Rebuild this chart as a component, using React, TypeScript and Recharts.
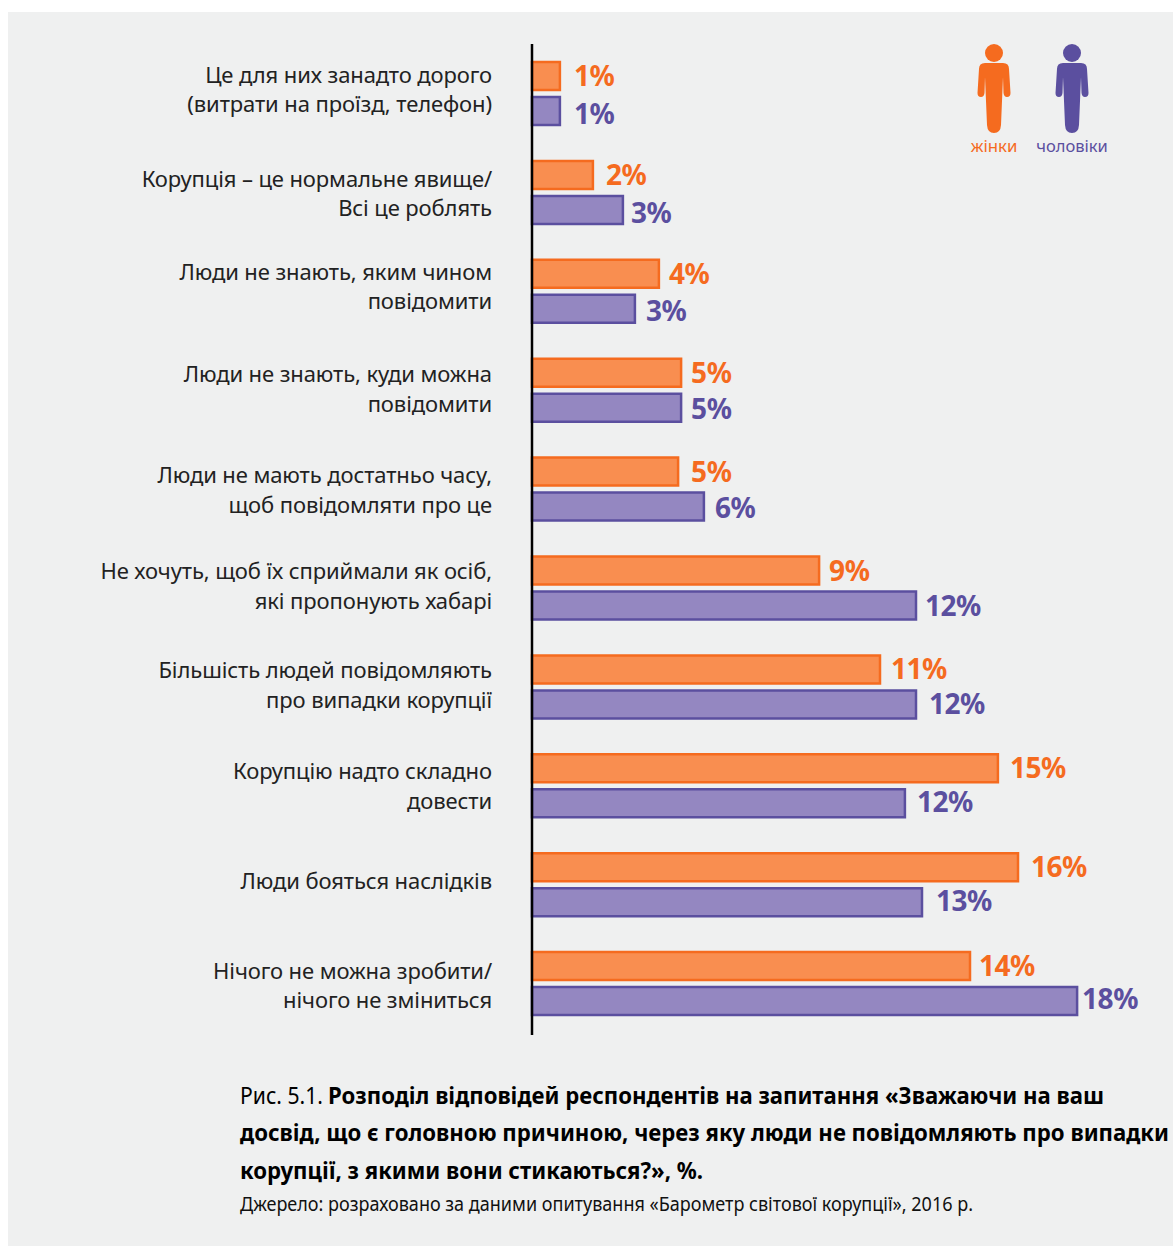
import React from 'react';
import { BarChart, Bar, XAxis, YAxis, LabelList } from 'recharts';

const categories = [
  'Це для них занадто дорого\n(витрати на проїзд, телефон)',
  'Корупція – це нормальне явище/\nВсі це роблять',
  'Люди не знають, яким чином\nповідомити',
  'Люди не знають, куди можна\nповідомити',
  'Люди не мають достатньо часу,\nщоб повідомляти про це',
  'Не хочуть, щоб їх сприймали як осіб,\nякі пропонують хабарі',
  'Більшість людей повідомляють\nпро випадки корупції',
  'Корупцію надто складно\nдовести',
  'Люди бояться наслідків',
  'Нічого не можна зробити/\nнічого не зміниться',
];

// bar lengths as drawn in the picture (they differ a bit from the printed numbers)
const womenBars = [0.93, 2.03, 4.23, 4.97, 4.87, 9.57, 11.6, 15.53, 16.2, 14.6];
const menBars = [0.93, 3.03, 3.43, 4.97, 5.73, 12.8, 12.8, 12.43, 13.0, 18.17];

// printed numbers
const womenLabels = [1, 2, 4, 5, 5, 9, 11, 15, 16, 14];
const menLabels = [1, 3, 3, 5, 6, 12, 12, 12, 13, 18];

// hand placement in the original is uneven, these follow it
const tickNudge = [-1, 4, -2, 2, 4, 1, 1, 3, -1, 5];
const womenGap = [14, 13, 10, 10, 13, 10, 11, 12, 13, 9];
const menGap = [14, 8, 11, 10, 11, 9, 13, 12, 14, 5];
const menRise = [3, 3, 2, 1, 1, 0, 0, -1, -1, -2];

const ORANGE = '#f56b1f';
const ORANGE_FILL = '#f98e50';
const PURPLE = '#5b4f9f';
const PURPLE_FILL = '#9487c1';
const FONT = '"Noto Sans", sans-serif';

const data = categories.map((name, i) => ({
  name,
  women: womenBars[i],
  men: menBars[i],
  womenLabel: womenLabels[i],
  menLabel: menLabels[i],
}));

const CategoryTick = ({ y, payload, index }: any) => {
  const lines = String(payload.value).split('\n');
  const top = y - ((lines.length - 1) * 29.5) / 2 - 3 + tickNudge[index];
  return (
    <text textAnchor="end" fontFamily={FONT} fontSize={22} letterSpacing={-0.1} fill="#222">
      {lines.map((l, i) => (
        <tspan key={i} x={492} y={top + i * 29.5 + 8}>{l}</tspan>
      ))}
    </text>
  );
};

const valueLabel = (color: string, labels: number[], gaps: number[], rises: number[]) => (props: any) => {
  const { x, y, width, height, index } = props;
  return (
    <text
      x={x + width + gaps[index]}
      y={y + height / 2 + 10 + rises[index]}
      fill={color}
      fontFamily={FONT}
      fontWeight={700}
      fontSize={28}
      letterSpacing={-0.5}
    >
      {labels[index]}%
    </text>
  );
};

const Person = ({ cx, color }: { cx: number; color: string }) => (
  <g transform={`translate(${cx},0)`} fill={color}>
    <circle cx={0} cy={53} r={9} />
    <path d="M-9 63H9Q15 63 15 69L16.5 93Q16.5 97 13 97Q10 97 9.5 93L9 77L7 125Q6.5 133 0 133Q-6.5 133-7 125L-9 77L-9.5 93Q-10 97-13 97Q-16.5 97-16.5 93L-15 69Q-15 63-9 63Z" />
  </g>
);

const Overlay = () => (
  <svg width={1173} height={1247} style={{ position: 'absolute', left: 0, top: 0, pointerEvents: 'none' }}>
    <Person cx={994} color={ORANGE} />
    <Person cx={1072} color={PURPLE} />
    <text x={994} y={152} textAnchor="middle" fontFamily={FONT} fontSize={16.8} fill={ORANGE}>жінки</text>
    <text x={1072} y={152} textAnchor="middle" fontFamily={FONT} fontSize={16.5} fill={PURPLE}>чоловіки</text>
    <g fontFamily={FONT} fontSize={24} fill="#000">
      <text x={240} y={1104} textLength={83} lengthAdjust="spacingAndGlyphs">Рис. 5.1.</text>
      <text x={328} y={1104} fontWeight={700} textLength={776} lengthAdjust="spacingAndGlyphs">Розподіл відповідей респондентів на запитання «Зважаючи на ваш</text>
      <text x={240} y={1141} fontWeight={700} textLength={929} lengthAdjust="spacingAndGlyphs">досвід, що є головною причиною, через яку люди не повідомляють про випадки</text>
      <text x={240} y={1179} fontWeight={700} textLength={463} lengthAdjust="spacingAndGlyphs">корупції, з якими вони стикаються?», %.</text>
    </g>
    <text x={240} y={1211} fontFamily={FONT} fontSize={20} fill="#111" textLength={733} lengthAdjust="spacingAndGlyphs">Джерело: розраховано за даними опитування «Барометр світової корупції», 2016 р.</text>
  </svg>
);

export default function App() {
  return (
    <div style={{ position: 'absolute', left: 0, top: 0, width: 1173, height: 1247, background: '#fff', overflow: 'hidden' }}>
      <div style={{ position: 'absolute', left: 8, top: 12, width: 1165, height: 1234, background: '#eff0f0' }} />
      <div style={{ position: 'absolute', left: 0, top: 0 }}>
        <BarChart
          width={1173}
          height={1247}
          data={data}
          layout="vertical"
          margin={{ top: 44, right: 41, bottom: 212, left: 0 }}
          barSize={28}
          barGap={7}
        >
          <XAxis type="number" domain={[0, 20]} hide />
          <YAxis
            type="category"
            dataKey="name"
            width={532}
            padding={{ top: 0, bottom: 2 }}
            axisLine={{ stroke: '#000', strokeWidth: 2.5 }}
            tickLine={false}
            interval={0}
            tick={<CategoryTick />}
          />
          <Bar dataKey="women" fill={ORANGE_FILL} stroke={ORANGE} strokeWidth={2.5} isAnimationActive={false}>
            <LabelList dataKey="womenLabel" content={valueLabel(ORANGE, womenLabels, womenGap, womenLabels.map(() => 0))} />
          </Bar>
          <Bar dataKey="men" fill={PURPLE_FILL} stroke={PURPLE} strokeWidth={2.5} isAnimationActive={false}>
            <LabelList dataKey="menLabel" content={valueLabel(PURPLE, menLabels, menGap, menRise)} />
          </Bar>
        </BarChart>
      </div>
      <Overlay />
    </div>
  );
}
